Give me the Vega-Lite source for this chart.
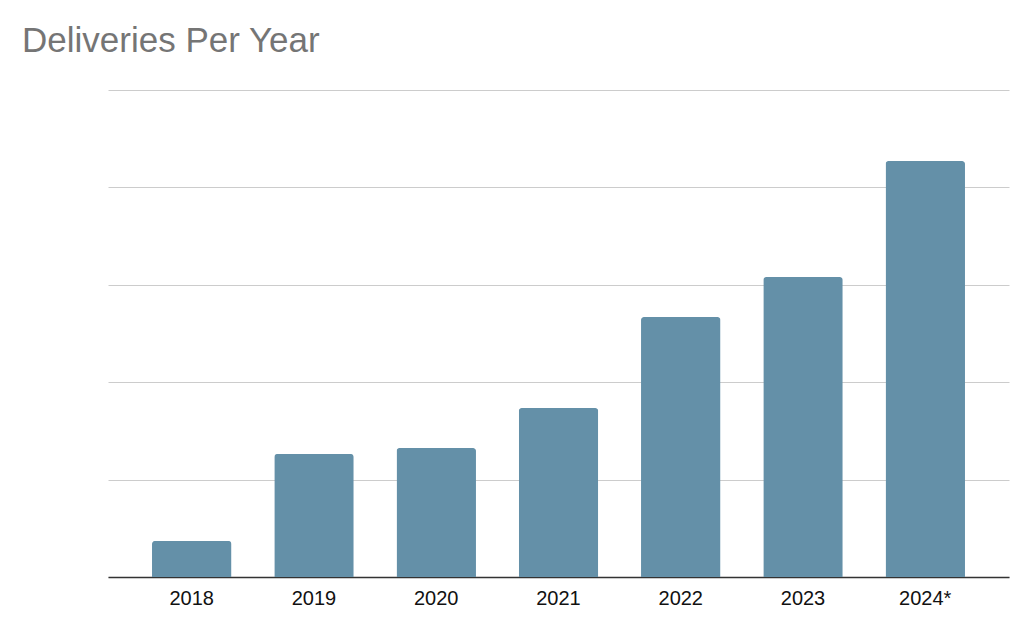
{
  "$schema": "https://vega.github.io/schema/vega-lite/v6.json",
  "width": 901,
  "height": 487,
  "autosize": "none",
  "padding": {"left": 108, "top": 90, "right": 15, "bottom": 52},
  "background": "white",
  "title": {
    "text": "Deliveries Per Year",
    "anchor": "start",
    "frame": "group",
    "dx": -86,
    "dy": 35,
    "offset": 38,
    "baseline": "alphabetic",
    "font": "Liberation Sans",
    "fontSize": 35,
    "fontWeight": "normal",
    "color": "#757575"
  },
  "config": {"view": {"stroke": null}},
  "data": {
    "values": [
      {"year": "2018", "deliveries": 0.37},
      {"year": "2019", "deliveries": 1.263},
      {"year": "2020", "deliveries": 1.324},
      {"year": "2021", "deliveries": 1.735},
      {"year": "2022", "deliveries": 2.669},
      {"year": "2023", "deliveries": 3.08},
      {"year": "2024*", "deliveries": 4.27}
    ]
  },
  "mark": {"type": "bar", "color": "#6490a8", "cornerRadiusTopLeft": 3, "cornerRadiusTopRight": 3},
  "encoding": {
    "x": {
      "field": "year",
      "type": "ordinal",
      "sort": null,
      "scale": {"paddingInner": 0.35, "paddingOuter": 0.36},
      "axis": {
        "title": null,
        "labelAngle": 0,
        "ticks": false,
        "tickSize": 0,
        "labelPadding": 27,
        "labelBaseline": "alphabetic",
        "labelFont": "Liberation Sans",
        "labelFontSize": 20,
        "labelColor": "#111111",
        "domainColor": "#333333",
        "domainWidth": 1.5,
        "grid": false
      }
    },
    "y": {
      "field": "deliveries",
      "type": "quantitative",
      "scale": {"domain": [0, 5], "nice": false},
      "axis": {
        "title": null,
        "labels": false,
        "ticks": false,
        "domain": false,
        "tickCount": 5,
        "grid": true,
        "gridColor": "#cccccc",
        "gridWidth": 1
      }
    }
  }
}
